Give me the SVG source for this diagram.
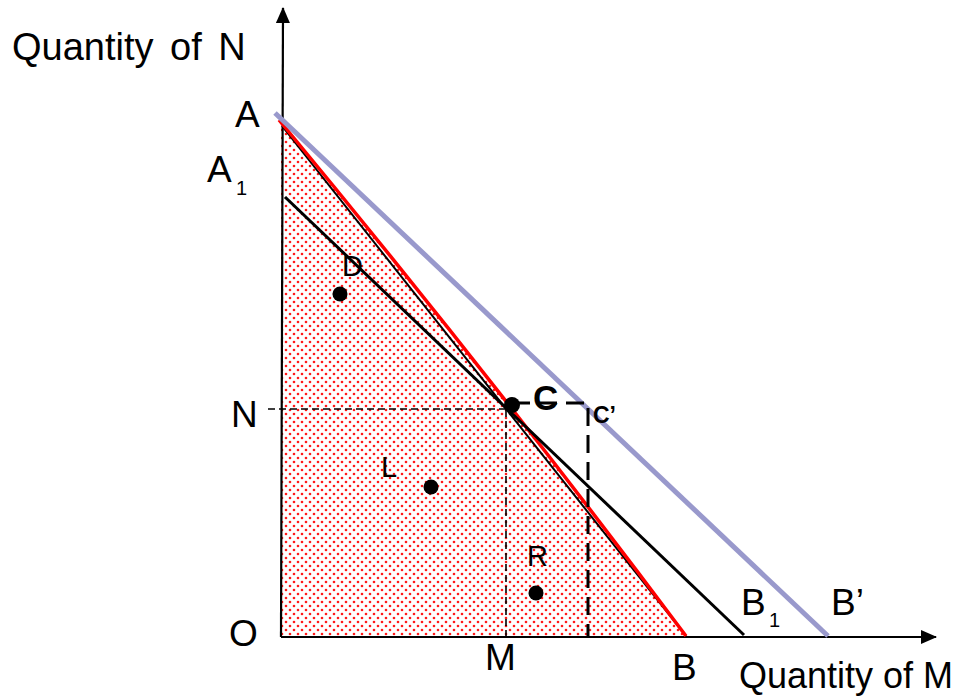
<svg xmlns="http://www.w3.org/2000/svg" width="963" height="697" viewBox="0 0 963 697">
  <defs>
    <pattern id="dots" x="0" y="0" width="8" height="8" patternUnits="userSpaceOnUse">
      <rect width="8" height="8" fill="#ffffff"/>
      <circle cx="2" cy="2" r="1.3" fill="#ff1a1a"/>
      <circle cx="6" cy="6" r="1.3" fill="#ff1a1a"/>
    </pattern>
    <marker id="arrow" markerWidth="16" markerHeight="14" refX="15" refY="7" orient="auto" markerUnits="userSpaceOnUse">
      <path d="M0,0 L16,7 L0,14 Z" fill="#000"/>
    </marker>
  </defs>
  <style>
    text { font-family: "Liberation Sans", Arial, sans-serif; fill: #000; }
    .lbl { font-size: 37px; }
    .axis-title { font-size: 38px; word-spacing: 6px; }
    .sub { font-size: 20px; }
    .small { font-size: 29px; }
    .dot { fill: #000; }
    .thin-dash { stroke: #000; stroke-width: 1.6; stroke-dasharray: 7 4; fill: none; }
    .thick-dash { stroke: #000; stroke-width: 3; stroke-dasharray: 18 9; fill: none; }
  </style>

  <g id="region">
    <path d="M281,121 Q489,373 686,637 L281,637 Z" fill="url(#dots)"/>
  </g>

  <g id="connectors">
    <line id="y-axis" x1="281" y1="637" x2="283" y2="8" stroke="#000" stroke-width="2.2" marker-end="url(#arrow)"/>
    <line id="x-axis" x1="281" y1="637" x2="936" y2="637" stroke="#000" stroke-width="2" marker-end="url(#arrow)"/>
    <line id="chord-AB" x1="282" y1="126" x2="686" y2="636" stroke="#000" stroke-width="2"/>
    <path id="ppf" d="M279,120 Q489,373 686,636" fill="none" stroke="#ff0000" stroke-width="3.5"/>
    <line id="A1B1" x1="285" y1="197" x2="744" y2="635" stroke="#000" stroke-width="3"/>
    <line id="ApBp" x1="275" y1="113" x2="828" y2="636" stroke="#9999cc" stroke-width="5"/>
    <line class="thin-dash" x1="268" y1="409" x2="507" y2="409"/>
    <line class="thin-dash" x1="506" y1="410" x2="506" y2="636"/>
    <path class="thick-dash" d="M512,403 H588 V636"/>
  </g>

  <g id="point-D"><circle class="dot" cx="340" cy="294" r="7.5"/><text class="small" x="342" y="276">D</text></g>
  <g id="point-C"><circle class="dot" cx="512" cy="405" r="8"/><text x="533" y="410" font-size="35" font-weight="bold">C</text></g>
  <g id="point-Cp"><text x="593" y="423" font-size="23" font-weight="bold">C’</text></g>
  <g id="point-L"><circle class="dot" cx="431" cy="487" r="7.5"/><text class="small" x="381" y="477">L</text></g>
  <g id="point-R"><circle class="dot" cx="536" cy="593" r="7.5"/><text class="small" x="527" y="566">R</text></g>

  <g id="labels">
    <text class="axis-title" x="12" y="60">Quantity of N</text>
    <text x="739" y="688" style="font-size:36px">Quantity of M</text>
    <text class="lbl" x="235" y="127">A</text>
    <text class="lbl" x="207" y="182">A</text><text class="sub" x="236" y="195">1</text>
    <text class="lbl" x="231" y="427">N</text>
    <text class="lbl" x="229" y="646">O</text>
    <text class="lbl" x="485" y="670">M</text>
    <text class="lbl" x="672" y="680">B</text>
    <text class="lbl" x="741" y="615">B</text><text class="sub" x="769" y="627">1</text>
    <text class="lbl" x="831" y="615">B’</text>
  </g>
</svg>
